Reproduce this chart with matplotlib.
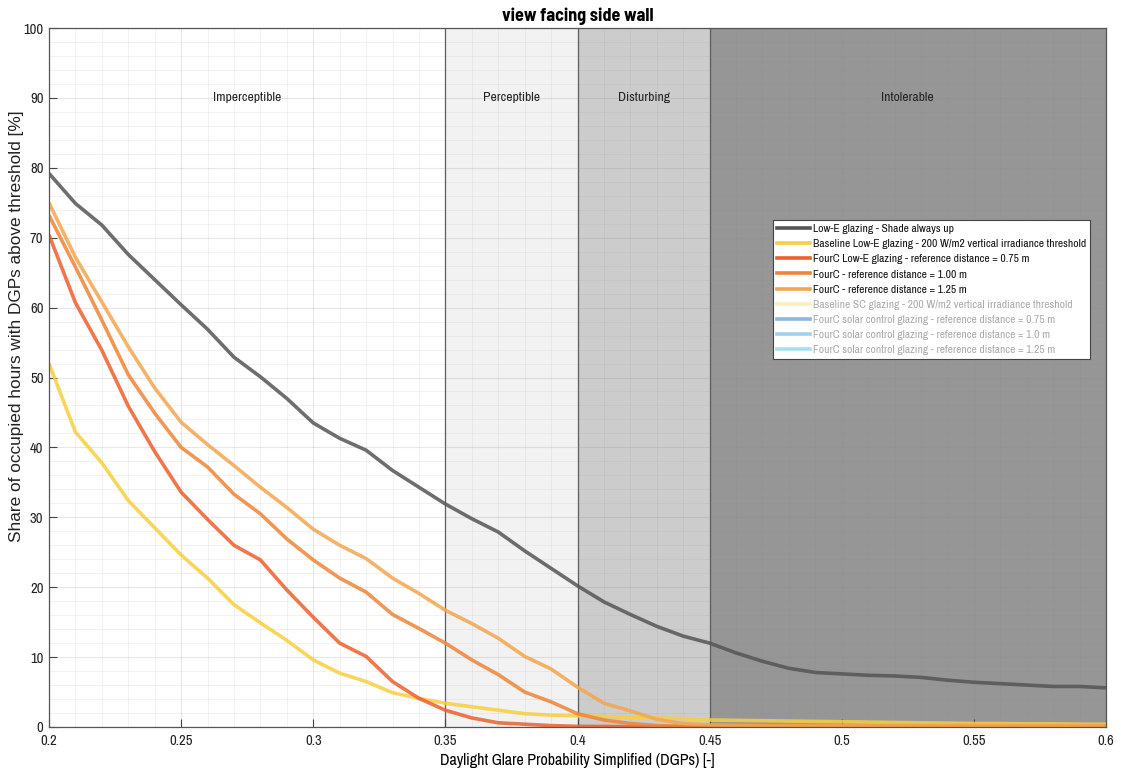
import numpy as np
import matplotlib
matplotlib.use("Agg")
import matplotlib.pyplot as plt
from matplotlib.lines import Line2D
from matplotlib.ticker import MultipleLocator, FuncFormatter

plt.rcParams['font.family'] = ['Archivo Narrow', 'Liberation Sans', 'DejaVu Sans']

# ---- data ----
dgp = [0.20, 0.21, 0.22, 0.23, 0.24, 0.25, 0.26, 0.27, 0.28, 0.29,
       0.30, 0.31, 0.32, 0.33, 0.34, 0.35, 0.36, 0.37, 0.38, 0.39,
       0.40, 0.41, 0.42, 0.43, 0.44, 0.45, 0.46, 0.47, 0.48, 0.49,
       0.50, 0.51, 0.52, 0.53, 0.54, 0.55, 0.56, 0.57, 0.58, 0.59, 0.60]

lowe_shade_up = [79.2, 74.9, 71.8, 67.6, 64.0, 60.4, 56.9, 52.9, 50.1, 47.0,
                 43.5, 41.3, 39.6, 36.7, 34.3, 31.9, 29.8, 27.9, 25.2, 22.7,
                 20.2, 17.9, 16.1, 14.4, 13.0, 12.0, 10.6, 9.4, 8.4, 7.8,
                 7.6, 7.4, 7.3, 7.1, 6.7, 6.4, 6.2, 6.0, 5.8, 5.8, 5.6]

baseline_lowe = [52.0, 42.2, 37.8, 32.4, 28.5, 24.6, 21.3, 17.5, 14.9, 12.4,
                 9.6, 7.7, 6.5, 4.9, 4.1, 3.4, 2.9, 2.4, 1.9, 1.7,
                 1.6, 1.5, 1.4, 1.3, 1.2, 1.0, 0.95, 0.9, 0.85, 0.8,
                 0.75, 0.7, 0.65, 0.6, 0.55, 0.5, 0.5, 0.45, 0.45, 0.4, 0.4]

fourc_075 = [70.4, 60.7, 53.9, 45.9, 39.4, 33.6, 29.7, 26.0, 23.9, 19.6,
             15.7, 12.0, 10.1, 6.5, 4.1, 2.4, 1.3, 0.6, 0.4, 0.2,
             0.1, 0.08, 0.05, 0.05, 0.05, 0.05, 0.05, 0.05, 0.05, 0.05,
             0.05, 0.05, 0.05, 0.05, 0.05, 0.05, 0.05, 0.05, 0.05, 0.05, 0.05]

fourc_100 = [73.2, 65.8, 58.2, 50.4, 44.9, 40.0, 37.2, 33.3, 30.5, 26.9,
             23.9, 21.3, 19.3, 16.1, 14.1, 12.0, 9.6, 7.5, 5.0, 3.6,
             1.9, 1.0, 0.5, 0.2, 0.1, 0.1, 0.1, 0.1, 0.1, 0.1,
             0.1, 0.1, 0.1, 0.1, 0.1, 0.1, 0.1, 0.1, 0.1, 0.1, 0.1]

fourc_125 = [75.0, 67.2, 60.8, 54.4, 48.5, 43.6, 40.4, 37.4, 34.3, 31.4,
             28.3, 26.0, 24.1, 21.3, 19.1, 16.7, 14.8, 12.7, 10.1, 8.3,
             5.7, 3.4, 2.3, 1.1, 0.5, 0.3, 0.25, 0.2, 0.2, 0.2,
             0.2, 0.2, 0.2, 0.2, 0.2, 0.2, 0.2, 0.2, 0.2, 0.2, 0.2]

zone_edges = [0.20, 0.35, 0.40, 0.45, 0.60]
zone_names = ['Imperceptible', 'Perceptible', 'Disturbing', 'Intolerable']
zone_colors = ['#ffffff', '#f2f2f2', '#cccccc', '#969696']

visible_labels = ['Low-E glazing - Shade always up',
                  'Baseline Low-E glazing - 200 W/m2 vertical irradiance threshold',
                  'FourC Low-E glazing - reference distance = 0.75 m',
                  'FourC - reference distance = 1.00 m',
                  'FourC - reference distance = 1.25 m']
hidden_labels = ['Baseline SC glazing - 200 W/m2 vertical irradiance threshold',
                 'FourC solar control glazing - reference distance = 0.75 m',
                 'FourC solar control glazing - reference distance = 1.0 m',
                 'FourC solar control glazing - reference distance = 1.25 m']

visible_colors = ['#555555', '#f7cf3e', '#ee5f2c', '#f08437', '#f3a64e']
hidden_colors = ['#fbefc0', '#8fb6dc', '#9fd0ec', '#a6dff2']

# ---- figure ----
W, H = 1121, 769
fig = plt.figure(figsize=(W / 100, H / 100), dpi=100)
L, R, T, B = 49, 1106, 28, 727
ax = fig.add_axes([L / W, 1 - B / H, (R - L) / W, (B - T) / H])

for i in range(4):
    ax.axvspan(zone_edges[i], zone_edges[i + 1], color=zone_colors[i], zorder=0, lw=0)
    ax.text((zone_edges[i] + zone_edges[i + 1]) / 2, 90, zone_names[i],
            ha='center', va='center', fontsize=9.8, color='#222222', zorder=1)
for e in zone_edges[1:-1]:
    ax.axvline(e, color='#555555', lw=0.9, zorder=1)

ax.set_xlim(0.2, 0.6)
ax.set_ylim(0, 100)
ax.xaxis.set_major_locator(MultipleLocator(0.05))
ax.xaxis.set_minor_locator(MultipleLocator(0.01))
ax.yaxis.set_major_locator(MultipleLocator(10))
ax.yaxis.set_minor_locator(MultipleLocator(2))
ax.xaxis.set_major_formatter(FuncFormatter(lambda v, p: f'{round(v, 2):g}'))
ax.grid(which='major', color='#888888', alpha=0.2, lw=0.8, zorder=0.5)
ax.grid(which='minor', color='#888888', alpha=0.12, lw=0.6, zorder=0.5)
ax.tick_params(which='major', direction='in', length=6, width=0.8, colors='#444444',
               labelsize=10.5, labelcolor='#222222')
ax.tick_params(axis='x', which='major', pad=5)
ax.tick_params(axis='y', which='major', pad=4)
ax.tick_params(which='minor', length=0)

series = [lowe_shade_up, baseline_lowe, fourc_075, fourc_100, fourc_125]
for vals, col, lab in zip(series, visible_colors, visible_labels):
    ax.plot(dgp, vals, color=col, lw=2.6, alpha=0.85, label=lab, zorder=3,
            solid_joinstyle='round', solid_capstyle='butt')

for sp in ax.spines.values():
    sp.set_color('#555555')
    sp.set_linewidth(0.9)
    sp.set_zorder(4)

handles = [Line2D([], [], color=c, lw=2.6) for c in visible_colors + hidden_colors]
labels = visible_labels + hidden_labels
leg = ax.legend(handles, labels, loc='upper left',
                bbox_to_anchor=((773 - L) / (R - L), (B - 220) / (B - T)),
                fontsize=8.3, frameon=True, fancybox=False, edgecolor='#444444',
                framealpha=1, handlelength=2.9, handletextpad=0.2, labelspacing=0.44,
                borderpad=0.35, borderaxespad=0)
leg.get_frame().set_linewidth(0.8)
leg.set_zorder(5)
for i, t in enumerate(leg.get_texts()):
    t.set_color('#111111' if i < 5 else '#aaaaaa')

ax.set_title('view facing side wall', fontsize=13,
             family=['Barlow Semi Condensed', 'Liberation Sans'], fontweight='bold', pad=5)
ax.set_xlabel('Daylight Glare Probability Simplified (DGPs) [-]', fontsize=11.5)
ax.set_ylabel('Share of occupied hours with DGPs above threshold [%]', fontsize=12.4,
              family=['Liberation Sans', 'DejaVu Sans'], color='#222222')
ax.xaxis.set_label_coords(0.5, -(760 - B) / (B - T), transform=ax.transAxes)
ax.yaxis.set_label_coords(-(L - 17) / (R - L), (B - 326) / (B - T), transform=ax.transAxes)
ax.xaxis.label.set_va('center')
ax.yaxis.label.set_va('center')

fig.savefig('out.png', dpi=100, facecolor='white')
